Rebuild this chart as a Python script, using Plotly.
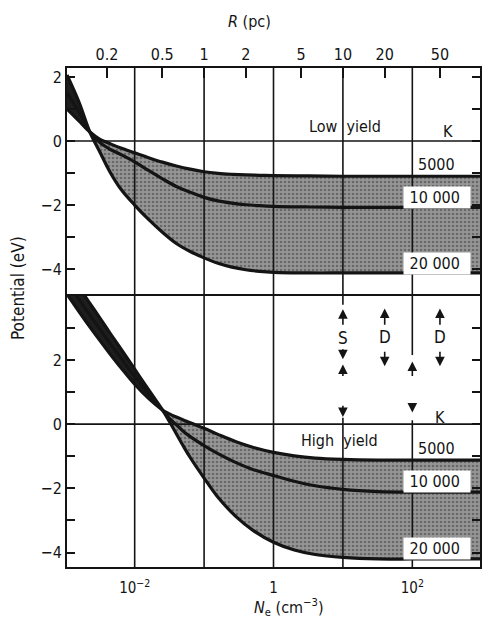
import math
import plotly.graph_objects as go

# ---------------- data (log10 Ne, potential in eV) ----------------
TOP_LOGNE = [-2.975, -2.8, -2.645, -2.5, -2.36, -2.2, -2.0, -1.8, -1.6, -1.4, -1.2, -1.0,
             -0.8, -0.6, -0.4, -0.2, 0.0, 0.5, 1.0, 1.5, 2.0, 2.5, 2.975]
TOP_T5000 = [1.0, 0.62, 0.28, 0.05, -0.08, -0.22, -0.37, -0.52, -0.66, -0.78, -0.88, -0.96,
             -1.01, -1.04, -1.06, -1.07, -1.08, -1.09, -1.1, -1.1, -1.1, -1.1, -1.1]
TOP_T10000 = [1.5, 0.9, 0.28, -0.05, -0.25, -0.42, -0.65, -0.92, -1.18, -1.42, -1.6, -1.76,
              -1.87, -1.94, -1.99, -2.02, -2.04, -2.06, -2.07, -2.07, -2.07, -2.07, -2.07]
TOP_T20000 = [2.06, 1.2, 0.28, -0.35, -0.95, -1.5, -2.0, -2.45, -2.85, -3.2, -3.45, -3.65,
              -3.82, -3.94, -4.02, -4.07, -4.1, -4.12, -4.12, -4.12, -4.12, -4.12, -4.12]
TOP_CROSS = 2  # index where the curves meet

BOT_LOGNE = [-2.975, -2.8, -2.67, -2.5, -2.36, -2.2, -2.0, -1.8, -1.6, -1.5, -1.4, -1.3, -1.2,
             -1.0, -0.8, -0.54, -0.3, 0.0, 0.3, 0.6, 1.0, 1.5, 2.0, 2.5, 2.975]
BOT_T5000 = [4.05, 3.5, 3.1, 2.6, 2.2, 1.76, 1.24, 0.8, 0.44, 0.32, 0.22, 0.13, 0.04,
             -0.13, -0.32, -0.55, -0.72, -0.88, -0.99, -1.06, -1.1, -1.12, -1.12, -1.12, -1.12]
BOT_T10000 = [4.43, 3.88, 3.47, 2.95, 2.53, 2.06, 1.48, 0.94, 0.44, 0.18, -0.02, -0.22, -0.39,
              -0.67, -0.92, -1.2, -1.41, -1.6, -1.78, -1.92, -2.03, -2.1, -2.12, -2.12, -2.12]
BOT_T20000 = [4.81, 4.25, 3.84, 3.3, 2.85, 2.35, 1.71, 1.07, 0.44, 0.08, -0.3, -0.68, -1.04,
              -1.68, -2.28, -2.88, -3.3, -3.68, -3.92, -4.06, -4.15, -4.2, -4.2, -4.2, -4.2]
BOT_CROSS = 8

X_TICKS = [0.01, 1, 100]
X_TICK_TEXT = ["10<sup>\u22122</sup>", "1", "10<sup>2</sup>"]
GRID_NE = [0.01, 0.1, 1, 10, 100]
R_TICKS = [0.2, 0.5, 1, 2, 5, 10, 20, 50]
R_TICK_TEXT = ["0.2", "0.5", "1", "2", "5", "10", "20", "50"]
TEMP_LABELS = ["5000", "10 000", "20 000"]

X_RANGE = [-2.975, 2.975]
TOP_YRANGE = [-4.84, 2.28]
BOT_YRANGE = [-4.45, 3.99]
SPLIT = 271 / 499

FONT = "DejaVu Sans Condensed, Liberation Sans Narrow, DejaVu Sans, sans-serif"
INK = "#141414"


def r_to_ne(r):
    return 0.1 * r ** 2


fig = go.Figure()


def add_panel(logne, c5, c10, c20, ci, xa, ya):
    ne = [10 ** v for v in logne]
    common = dict(xaxis=xa, yaxis=ya, showlegend=False, hoverinfo="skip", mode="lines")
    clear = dict(width=0, shape="spline", color="rgba(0,0,0,0)")
    # dark wedge before crossing
    fig.add_trace(go.Scatter(x=ne[:ci + 1], y=c20[:ci + 1], line=clear, **common))
    fig.add_trace(go.Scatter(x=ne[:ci + 1], y=c5[:ci + 1], fill="tonexty", fillcolor="#1e1e1e",
                             line=clear, **common))
    # stippled band after crossing
    fig.add_trace(go.Scatter(x=ne[ci:], y=c5[ci:], line=clear, **common))
    fig.add_trace(go.Scatter(x=ne[ci:], y=c20[ci:], fill="tonexty", fillcolor="#8a8a8a",
                             fillpattern=dict(shape=".", bgcolor="#969696", fgcolor="#3a3a3a",
                                              size=4, solidity=0.35),
                             line=clear, **common))
    for c in (c5, c10, c20):
        fig.add_trace(go.Scatter(x=ne, y=c, line=dict(width=3.2, color=INK, shape="spline"),
                                 **common))


add_panel(TOP_LOGNE, TOP_T5000, TOP_T10000, TOP_T20000, TOP_CROSS, "x2", "y2")
add_panel(BOT_LOGNE, BOT_T5000, BOT_T10000, BOT_T20000, BOT_CROSS, "x", "y")

# invisible carrier so the top R axis is drawn
fig.add_trace(go.Scatter(x=[r_to_ne(r) for r in R_TICKS], y=[0] * len(R_TICKS), mode="markers",
                         marker=dict(opacity=0, size=1), xaxis="x3", yaxis="y2",
                         showlegend=False, hoverinfo="skip"))

# ---------------- grid lines ----------------
shapes = []
gl = dict(color=INK, width=1.6)
for d in GRID_NE:
    shapes.append(dict(type="line", xref="x2", yref="y2 domain", x0=d, x1=d, y0=0, y1=1,
                       line=gl, layer="above"))
for d in GRID_NE[:3]:
    shapes.append(dict(type="line", xref="x", yref="y domain", x0=d, x1=d, y0=0, y1=1,
                       line=gl, layer="above"))
# broken grid lines in lower panel (interrupted by S / D markers)
for d, lo_top, hi_bot in [(GRID_NE[3], 0.2, 3.72), (GRID_NE[4], 0.12, 2.15)]:
    shapes.append(dict(type="line", xref="x", yref="y", x0=d, x1=d, y0=BOT_YRANGE[0], y1=lo_top,
                       line=gl, layer="above"))
    shapes.append(dict(type="line", xref="x", yref="y", x0=d, x1=d, y0=hi_bot, y1=BOT_YRANGE[1],
                       line=gl, layer="above"))
for ya in ("y", "y2"):
    xa = "x" if ya == "y" else "x2"
    shapes.append(dict(type="line", xref=xa + " domain", yref=ya, x0=0, x1=1, y0=0, y1=0,
                       line=gl, layer="above"))

# ---------------- annotations ----------------
ann = []


def txt(x, y, s, xa, ya, bg=None, size=16):
    d = dict(x=x, y=y, xref=xa, yref=ya, text=s, showarrow=False,
             font=dict(family=FONT, size=size, color=INK))
    if bg:
        d.update(bgcolor=bg, borderpad=1)
    ann.append(d)


# top panel labels
txt(1.03, 0.45, "Low  yield", "x2", "y2")
txt(2.52, 0.3, "K", "x2", "y2")
txt(2.35, -0.74, TEMP_LABELS[0], "x2", "y2")
txt(2.35, -1.75, "&nbsp;" + TEMP_LABELS[1] + "&nbsp;&nbsp;", "x2", "y2", bg="white")
txt(2.35, -3.81, "&nbsp;" + TEMP_LABELS[2] + "&nbsp;&nbsp;", "x2", "y2", bg="white")
# bottom panel labels
txt(0.95, -0.5, "High  yield", "x", "y")
txt(2.4, 0.2, "K", "x", "y")
txt(2.35, -0.75, TEMP_LABELS[0], "x", "y")
txt(2.35, -1.8, "&nbsp;" + TEMP_LABELS[1] + "&nbsp;&nbsp;", "x", "y", bg="white")
txt(2.35, -3.87, "&nbsp;" + TEMP_LABELS[2] + "&nbsp;&nbsp;", "x", "y", bg="white")


def arrow(lx, tip, tail):
    ann.append(dict(x=lx, y=tip, ax=lx, ay=tail, xref="x", yref="y", axref="x", ayref="y",
                    text="", showarrow=True, arrowhead=2, arrowsize=1.2, arrowwidth=1.6,
                    arrowcolor=INK))


xs = math.log10(r_to_ne(R_TICKS[5]))
xd1 = math.log10(r_to_ne(R_TICKS[6]))
xd2 = math.log10(r_to_ne(R_TICKS[7]))
x100 = math.log10(GRID_NE[4])

arrow(xs, 3.58, 3.05)
txt(xs, 2.68, "S", "x", "y", size=17)
arrow(xs, 2.02, 2.38)
arrow(xs, 1.86, 1.45)
arrow(xs, 0.22, 0.62)
for xd in (xd1, xd2):
    arrow(xd, 3.6, 3.05)
    txt(xd, 2.7, "D", "x", "y", size=17)
    arrow(xd, 1.8, 2.3)
arrow(x100, 1.95, 1.45)
arrow(x100, 0.36, 0.7)

# axis titles
ann.append(dict(x=0, y=(567 - 288) / 499, xref="paper", yref="paper", xshift=-49,
                xanchor="center", yanchor="middle", text="Potential (eV)",
                textangle=-90, showarrow=False, font=dict(family=FONT, size=17, color=INK)))
ann.append(dict(x=0.537, y=-(607 - 567) / 499, xref="paper", yref="paper", yanchor="middle",
                text="<i>N</i><sub>e</sub> (cm<sup>\u22123</sup>)", showarrow=False,
                font=dict(family=FONT, size=16, color=INK)))
ann.append(dict(x=0.441, y=(567 - 22) / 499, xref="paper", yref="paper", yanchor="middle",
                text="<i>R</i> (pc)", showarrow=False,
                font=dict(family=FONT, size=16, color=INK)))

axline = dict(showline=True, linecolor=INK, linewidth=2)
fig.update_layout(
    width=483, height=622,
    margin=dict(l=67, r=1, t=68, b=55),
    plot_bgcolor="white", paper_bgcolor="white",
    showlegend=False,
    font=dict(family=FONT, size=15, color=INK),
    xaxis=dict(type="log", range=X_RANGE, domain=[0, 1], anchor="y",
               tickmode="array", tickvals=X_TICKS, ticktext=X_TICK_TEXT, ticks="",
               showgrid=False, zeroline=False, mirror=True, ticklabelstandoff=6,
               tickfont=dict(size=15), **axline),
    yaxis=dict(domain=[0, SPLIT], range=BOT_YRANGE, anchor="x",
               tickmode="array", tickvals=list(range(-4, 4)),
               ticktext=["\u22124", "", "\u22122", "", "0", "", "2", ""],
               ticks="inside", ticklen=8, tickwidth=1.6, tickcolor=INK,
               showgrid=False, zeroline=False, mirror="ticks", tickfont=dict(size=16), **axline),
    xaxis2=dict(type="log", range=X_RANGE, domain=[0, 1], anchor="y2", matches="x",
                showticklabels=False, ticks="", showgrid=False, zeroline=False,
                showline=False),
    yaxis2=dict(domain=[SPLIT, 1], range=TOP_YRANGE, anchor="x2",
                tickmode="array", tickvals=list(range(-4, 3)),
                ticktext=["\u22124", "", "\u22122", "", "0", "", "2"],
                ticks="inside", ticklen=8, tickwidth=1.6, tickcolor=INK,
                showgrid=False, zeroline=False, mirror="ticks", tickfont=dict(size=16), **axline),
    xaxis3=dict(type="log", range=X_RANGE, overlaying="x2", anchor="y2", side="top",
                tickmode="array", tickvals=[r_to_ne(r) for r in R_TICKS], ticktext=R_TICK_TEXT,
                ticks="inside", ticklen=10, tickwidth=1.6, tickcolor=INK,
                showgrid=False, zeroline=False, tickfont=dict(size=16), **axline),
    shapes=shapes,
    annotations=ann,
)

fig.write_html("out.html")
